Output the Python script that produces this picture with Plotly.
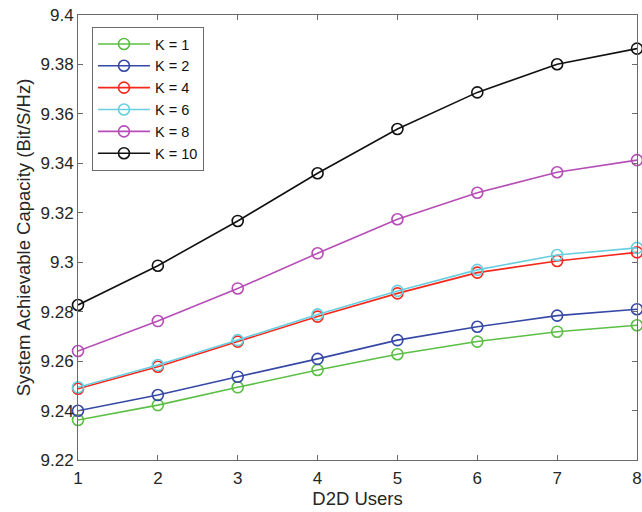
import plotly.graph_objects as go

d2d_users = [1, 2, 3, 4, 5, 6, 7, 8]
k1 = [9.2362, 9.2422, 9.2494, 9.2564, 9.2628, 9.2679, 9.2719, 9.2745]
k2 = [9.2399, 9.2463, 9.2537, 9.2609, 9.2685, 9.2739, 9.2784, 9.2810]
k4 = [9.2488, 9.2577, 9.2679, 9.2780, 9.2874, 9.2958, 9.3005, 9.3040]
k6 = [9.2494, 9.2584, 9.2685, 9.2789, 9.2884, 9.2969, 9.3029, 9.3058]
k8 = [9.2641, 9.2762, 9.2894, 9.3036, 9.3174, 9.3281, 9.3364, 9.3413]
k10 = [9.2827, 9.2986, 9.3167, 9.3360, 9.3539, 9.3687, 9.3801, 9.3864]
names = ["K = 1", "K = 2", "K = 4", "K = 6", "K = 8", "K = 10"]
colors = ["#5cbf45", "#3648a6", "#f5281c", "#68cfe0", "#b64db6", "#111111"]
x_ticks = [1, 2, 3, 4, 5, 6, 7, 8]
y_ticks = [9.22, 9.24, 9.26, 9.28, 9.3, 9.32, 9.34, 9.36, 9.38, 9.4]
y_labels = ["9.22", "9.24", "9.26", "9.28", "9.3", "9.32", "9.34", "9.36", "9.38", "9.4"]

fig = go.Figure()
for ys, nm, c in zip([k1, k2, k4, k6, k8, k10], names, colors):
    fig.add_trace(go.Scatter(
        x=d2d_users, y=ys, name=nm, mode="lines+markers",
        line=dict(color=c, width=1.6),
        marker=dict(symbol="circle-open", size=11, color=c, line=dict(width=1.6, color=c)),
        cliponaxis=False,
    ))

axis_common = dict(
    showline=True, linecolor="#6a6a6a", linewidth=1, mirror="ticks",
    ticks="inside", ticklen=5, tickcolor="#6a6a6a", showgrid=False, zeroline=False,
    tickfont=dict(family="Liberation Sans, Arial, sans-serif", size=17, color="#262626"),
    ticklabeloverflow="allow",
)

fig.update_layout(
    width=642, height=512,
    margin=dict(l=78, r=0, t=15, b=52),
    paper_bgcolor="white", plot_bgcolor="white",
    font=dict(family="Liberation Sans, Arial, sans-serif", size=17, color="#262626"),
    xaxis=dict(range=[1, 8], tickvals=x_ticks, ticktext=[str(v) for v in x_ticks],
               ticklabelstandoff=3,
               title=dict(text="D2D Users", standoff=3, font=dict(size=18.5)), **axis_common),
    yaxis=dict(range=[9.22, 9.4], tickvals=y_ticks, ticktext=y_labels,
               title=dict(text="System Achievable Capacity (Bit/S/Hz)", standoff=5, font=dict(size=18.5)),
               **axis_common),
    legend=dict(x=0.025, y=0.973, xanchor="left", yanchor="top",
                bgcolor="white", bordercolor="#6a6a6a", borderwidth=1,
                font=dict(size=14.5, color="#111111"), tracegroupgap=0, itemwidth=52),
    showlegend=True,
)

fig.write_html("out.html")
